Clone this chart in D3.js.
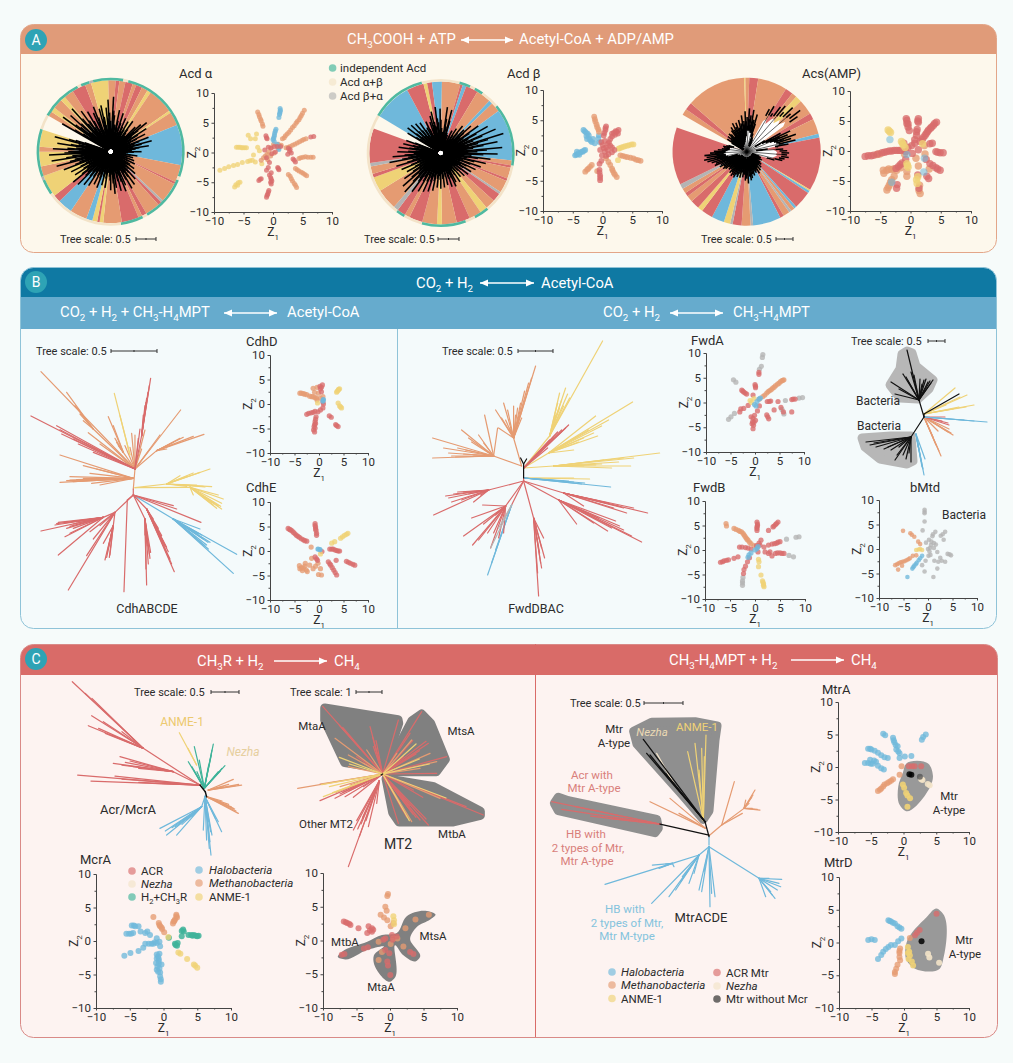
<!DOCTYPE html>
<html>
<head>
<meta charset="utf-8">
<script src="https://cdn.jsdelivr.net/npm/d3@7/dist/d3.min.js"></script>
<style>
  html, body { margin: 0; background: #f6fbfa; }
  svg { display: block; font-family: Roboto, sans-serif; }
</style>
</head>
<body>
<script>
// ---- data: scatter points are [Z1, Z2] ----
const acdAlphaBlue = [[1.2,7.4],[1.25,7.1],[1.2,6.9],[1.15,6.6],[1.1,6.4],[1,5.9],[.5,3.9],[.4,3.6],[.3,3.3],[.25,3],[.2,2.7],[.1,2.4],[0,2.2],[.2,1.9],[.7,1.4],[1,.9],[1,.5]];
const acdAlphaOrange = [[5.3,7.1],[5,6.6],[4.8,6.2],[4.6,5.9],[4.4,5.5],[4.1,5.2],[3.9,4.9],[3.6,4.5],[3.3,4.2],[3,3.8],[2.7,3.4],[2.4,3.1],[2.1,2.8],[1.9,2.5],[1.6,2.3],[-2.6,6.8],[-2.4,6.4],[-2.3,6],[-2.1,5.6],[-2,5.3],[-1.8,4.8],[-1.7,4.4],[5.6,2.3],[5.2,2.2],[4.9,2],[4.5,1.8],[4.1,1.6],[3.7,1.4],[3.3,1.2],[2.9,1],[2.6,.9],[2.2,.8],[6.8,-.8],[6.4,-.8],[5.9,-.8],[5.5,-.7],[5.1,-.8],[4.7,-.9],[4.4,-1],[5.7,-3.9],[5.4,-3.7],[5.1,-3.5],[4.8,-3.3],[4.4,-3.1],[4.1,-2.9],[3.8,-2.7],[4,-5.9],[3.8,-5.5],[3.6,-5.2],[3.3,-4.8],[3.1,-4.4],[2.9,-4],[2.6,-3.7],[.1,1.4],[.9,1.4],[1.4,1.2],[-.4,.8],[.9,.7],[-1,-.3],[-1.6,-.9],[-.4,-.6],[-2,-1.3],[.2,-.1],[-.9,-1.2],[-1.3,-.6],[-.7,.1]];
const acdAlphaYellow = [[-9,-3],[-8.2,-2.7],[-7.5,-2.4],[-6.7,-2.2],[-6,-2],[-5.2,-1.7],[-4.3,-1.5],[-3.9,-1.4],[-3.5,-1.3],[-3,-1.6],[-6.2,.9],[-5.9,.9],[-5.6,.9],[-5.3,.8],[-5.1,.8],[-4.8,.8],[-4.5,.8],[-4.2,2.9],[-3.8,2.3],[-2.8,3.1],[-3,2.3],[-6.5,-5.8],[-6.3,-5.4],[-6,-5.5],[-5.6,-5],[-5.9,-5.1],[-3.3,-.4],[-2.3,.3],[-2.6,.9],[-1.9,-1.9]];
const acdAlphaRed = [[-1.1,-7.5],[-1,-7.2],[-.9,-7],[-.8,-6.7],[-.7,-6.4],[-.3,-5.3],[-.2,-4.8],[-.4,-5],[-.4,-4.2],[-.3,-3.4],[-.6,-3.8],[-.3,-4.5],[-2.4,-4.7],[-2.2,-4.5],[-2,-4.4],[-1.1,-3],[-.8,-2.5],[.8,-2.5],[1,-2.9],[.9,-2.7],[-1.2,2.8],[-1.1,2.5],[-1,2.3],[-.8,.9],[-.3,.7],[.2,1],[.7,1],[1.3,1],[2.6,.7],[2.9,.5],[3.1,-.1],[2.5,-.3],[2.8,.2],[6.9,2.7],[6.4,2.6],[3.4,-1.1],[3.6,-1.3],[3.8,-1.6],[-1.4,.4],[-1.1,-.9],[-.6,-1.7],[.4,.1],[-.2,-.2]];

const acdBetaBlue = [[-3.2,3.4],[-3,3.2],[-2.8,3],[-2.5,2.8],[-2.3,2.5],[-2.7,2.4],[-2.2,1.9],[-2,1.6],[-1.8,1.4],[-1.3,1.2],[-2.6,1.9],[-1.6,1.9],[-.6,2.5],[-.7,2],[-4.6,-.8],[-4.4,-.7],[-4.2,-.6],[-4,-.4],[-3.7,-.3],[-3.5,-.2],[-3.3,-.2],[-3.1,0],[-2.9,.1],[-4.3,-.2],[-3.9,-.7],[-.5,1.4]];
const acdBetaOrange = [[-1.4,5.6],[-1.3,5.2],[-1.2,4.8],[-1,4.3],[-.9,3.9],[-.7,3.5],[-.6,3.1],[6.4,-1.7],[6,-1.6],[5.6,-1.5],[5.2,-1.3],[4.7,-1.2],[4.2,-1.1],[3.8,-1],[3.4,-.9],[3,-.8],[-2.9,-3.5],[-2.6,-3.2],[-2.4,-3],[-2.1,-2.7],[-1.8,-2.4],[2.4,-4.4],[2.1,-4],[1.9,-3.7],[1.7,-3.3],[1.3,-2.4],[1.6,-3],[.6,-1.3],[1,-1.9],[-.9,-3.4]];
const acdBetaYellow = [[5.2,1],[4.9,1],[4.5,.9],[4.2,.8],[3.8,.7],[3.5,.6],[3.2,.5],[2.9,.4],[2.7,.3],[2.6,-1.6]];
const acdBetaRed = [[.6,4],[.5,3.7],[.5,3.4],[.3,2.9],[.2,2.5],[2.7,3.4],[2.4,3.1],[2.1,2.6],[1.6,2.3],[2.6,2.8],[1.1,1.4],[1.3,1.9],[1.9,2.9],[2.2,3.2],[1.6,2.8],[.4,1.6],[0,.9],[.6,.5],[1.3,.8],[2,.1],[.4,-.2],[-.4,.1],[1,-.6],[-.1,-.8],[1.6,-.3],[-.4,-4.9],[-.4,-4.5],[-.4,-4.1],[-.5,-3.6],[-.5,-3.2],[-.5,-2.2],[-.2,-1.7],[.9,.1],[-.2,1.4],[.9,1.1],[.2,.4],[1.6,.5],[.6,-.9]];

const acsRed = [[-7.5,-.9],[-7,-.8],[-6.5,-.8],[-6.1,-.7],[-5.4,-.5],[-4.7,-.3],[-4.3,-.2],[-3.9,-.1],[-3.5,0],[-3.1,0],[-2.7,.1],[-2.3,.1],[-1.9,.1],[-1.6,.1],[-.8,-.1],[-.6,5.1],[-.6,4.6],[-.4,4],[-.2,3.4],[-.4,4.5],[-.7,5.4],[1.3,5.4],[1.3,4.8],[1.2,5],[1,3.2],[1,2.6],[1.1,3.6],[.7,1.9],[.7,1.3],[4.3,4.8],[4,4.6],[3.8,4.3],[3.5,4],[3.3,3.8],[3,3.5],[2.8,3.2],[2.6,2.9],[2.4,2.6],[2.1,2.2],[1.9,1.9],[1.6,1.6],[3.2,1.2],[3.6,1.3],[5.4,-.3],[4.9,-.3],[4.5,-.2],[4.2,-.1],[4.9,-3.2],[4.5,-3],[4.2,-2.8],[3.7,-2.4],[3.2,-2.1],[2.6,-1.4],[3,-4.6],[2.7,-4.2],[-2.3,-6.2],[-2.2,-5.6],[-2,-2.6],[-1.7,-2.3],[-1.4,-2],[-.8,-1.4],[1.4,-6.2],[1.2,-4],[-1.1,1.3],[-.4,.6],[.3,-.4],[-2.4,-2.9],[1.3,.2],[.2,.9]];
const acsOrange = [[-4.5,-3.2],[-3.9,-3.2],[-3.6,-3],[-3.2,-3.1],[-2.8,-3],[-2.3,-3.2],[-1.6,-2.8],[-3.9,-6.5],[-3.7,-6.1],[-3.5,-5.7],[-3.3,-5.2],[-3.1,-4.8],[-2.7,-4.2],[1.6,-7.1],[1.4,-6.6],[-.6,-4.2],[-.6,-3.4],[2.4,-.5],[3.1,-3],[.9,-1.2],[-4.4,-3.7],[-5.1,-.5],[-5.6,-.6],[2.3,.9],[1.3,-2.5],[-1,-.5],[1.5,-5.7]];
const acsYellow = [[-3.7,3.5],[-3.5,3.3],[-3.3,3.1],[-1.5,1.6],[-1.3,1.3],[-1.2,1],[-.9,.6],[-.6,-2.1],[-.5,-2.4],[-.4,-2.7],[1,-4.8],[1.1,-5.4],[1.2,-4.3],[2,1.2]];
const acsBlue = [[-3.1,-5.2],[-3.4,1.9],[2.3,-1.2],[2.2,-3.5],[-.6,-.6]];

const cdhDOrange = [[-3.9,2.2],[-3.6,2.2],[-3.2,2.1],[-2.9,2],[-2.5,1.9],[-1.9,1.6],[-1.5,1.5],[-1.2,1.5],[-.8,1.3],[-.5,1.2],[.3,1.2],[.8,1.5],[-1.2,3.2],[-.4,3.4],[-.1,2.2],[-.9,2.4],[-.4,.8]];
const cdhDRed = [[.2,3.6],[.3,3.1],[.5,2.5],[.7,3.9],[.5,3.4],[.8,.4],[.8,-.8],[.3,-1.2],[-.2,-1.6],[-.8,-1.5],[-1.2,-1.7],[-1.6,-1.8],[-2.1,-1.9],[-2.5,-2.1],[-.6,-2.6],[-.8,-3.6],[-.9,-4.2],[-.8,-4.9],[-1.1,-5.3],[-.9,-5.7],[-1,-4.6],[-.7,-4],[3.9,-4.6],[3.6,-4.4],[3.4,-4.2],[2.5,-2.7],[2.1,-2.4],[-.7,-3.1],[.9,0]];
const cdhDYellow = [[4.2,3.1],[4,3],[3.9,2.8],[3.7,2.6],[3.6,2.4],[4.6,-.8],[4.4,-.6],[4.2,-.4],[3.9,.2],[-.3,.2]];
const cdhDBlue = [[.8,.6],[.9,.9]];

const cdhERed = [[-6.3,4.6],[-6,4.4],[-5.8,4.3],[-5.5,4.1],[-5.2,3.8],[-4.9,3.5],[-4.6,3.2],[-4.3,3],[-4,2.8],[-3.6,2.5],[-3.2,2.3],[-2.9,2.1],[-2.5,2],[-.8,5.6],[-.8,5.2],[-.7,4.9],[-.7,4.5],[-.6,4.2],[-.5,3.6],[-.5,3.2],[2.2,.4],[2.6,.4],[2.9,.4],[3.3,.2],[3.6,.1],[3.9,0],[4.2,0],[-.8,-1.2],[-.5,-1.6],[-.3,-1.9],[1.9,-2.2],[2.2,-2.6],[2.4,-2.9],[2.7,-3.4],[3,-3.9],[3.3,-4.4],[3.6,-4.9],[5.6,-2.1],[6,-2.3],[6.4,-2.5],[6.9,-2.7],[7.3,-2.9],[.6,-.1],[3.5,-1.9]];
const cdhEYellow = [[5.9,3.6],[5.6,3.4],[5.2,3.2],[4.8,2.9],[4.4,2.6],[3.2,1.9],[2.6,1.6],[.3,-.6]];
const cdhEOrange = [[-3.9,-3.6],[-4,-3],[-3.6,-3.4],[-3.2,-3.5],[-2.9,-3.1],[-2.6,-3.9],[-1.9,-2.9],[-1.2,-3.6],[-.7,-3.1],[-.2,-2.5],[.3,-3.6],[.5,-4.9],[-.1,-4.8],[-2.4,-4.2],[-1.5,-1.5],[-1.6,.8],[-2.8,-2.5],[-3.4,-4]];
const cdhEBlue = [[-.2,.4],[.2,.3]];

const fwdARed = [[.8,6.1],[.8,5.7],[0,3.6],[.1,3],[.1,3.3],[-2.7,2.5],[-2.5,2.3],[-2.3,2.1],[-2,1.9],[-1.7,1.7],[-.4,1.5],[3.2,.3],[2.5,.2],[2.9,.2],[4.7,.2],[7.5,.6],[8.2,.7],[7.8,.7],[7.5,-1.9],[5.8,-1.9],[5.3,-1],[3.9,-1.5],[2.4,-2.5],[2.8,-3.3],[2.6,-2.9],[-.4,-5.3],[-.3,-4.6],[-.5,-3.9],[-.4,-3.2],[-.1,-2.6],[-.6,-4.3],[.1,-3.6],[-.2,-4],[.5,-1.7],[-3.1,-1.9],[-2.9,-1.3],[-2.3,-1.2],[-1.4,-.6],[.9,-.7],[-.8,-2.9]];
const fwdAGray = [[1.6,9.7],[1.5,9.1],[-4.4,4.6],[-3.9,4.1],[9.7,1],[9,.9],[6.2,.4],[5.5,-1.4],[-5.4,-3.4],[-4.9,-2.9],[-4.2,-2.2],[1.3,7.3],[.9,6.7],[5.9,-2.3]];
const fwdAOrange = [[5.9,4.6],[5.7,4.5],[5.5,4.4],[5.2,4.2],[4.9,3.9],[4.6,3.7],[4.2,3.4],[3.9,3.1],[3.6,2.9],[3.3,2.6],[3,2.4],[2.7,2.2],[2.4,1.9],[2,1.5],[1.6,1.2],[.9,.7]];
const fwdABlue = [[.4,.2],[.8,.7],[-.1,-.4],[1.1,.9],[.2,-.7]];
const fwdAYellow = [[-.7,0],[-.2,.8],[-1,.4]];

const fwdBRed = [[.4,5.7],[.5,5.3],[.5,5],[.4,4.7],[.4,4.4],[.4,4],[4.6,5.7],[4.3,5.4],[4.1,5.2],[3.8,4.9],[3.6,4.7],[2.7,4],[5,1.7],[4.6,1.6],[4.3,1.4],[3.9,1.3],[3.4,1.2],[2.7,1],[1.8,.6],[1.2,2],[.8,1.4],[1,1],[-6.9,-2.5],[-6.5,-2.4],[-6.2,-2.2],[-5.7,-2.1],[-5.3,-2],[-4.2,-1.7],[-3.4,-1.4],[-2.3,-4.8],[-2.2,-4],[-1.9,-3.3],[-1.5,-2.4],[-1.1,-1.6],[5.8,-.7],[5.4,-.7],[5,-.6],[4.5,-.6],[4.1,-.7],[2.7,-.7],[3,-.4],[2,-.4],[-3.1,.6],[-2.6,.6],[-1.9,.5],[-1.4,.4],[-.8,.2],[3.4,-1.2],[.6,-.4],[.3,.9]];
const fwdBGray = [[8.8,2.7],[8.2,2.6],[7.7,-1.4],[6.8,-1.1],[6.3,2.2],[-2.5,-7.2],[-2.5,-6.7],[-2.5,-6.3],[-2.4,-5.6]];
const fwdBOrange = [[-5.8,5.4],[-5.7,4.9],[-4.2,4.4],[-3.8,4.2],[-3.3,4],[-3,3.8],[-2.7,3.7],[-2.4,3.4],[-2.2,3.1],[-2,2.8],[-1.8,2.5],[-1.6,2.2],[-1.4,2],[-1.1,1.6],[-.8,1.3],[-.2,.9],[.4,.5]];
const fwdBYellow = [[1.8,-7.5],[1.7,-7.2],[1.7,-6.9],[1.6,-6.6],[1.5,-6.3],[1.2,-5.1],[.8,-2.4],[.7,-1.9],[.7,-3.4]];
const fwdBBlue = [[-1.2,-1],[-.8,-.6],[.4,.3],[.6,.7],[-1.4,-1.5],[0,0]];

const bMtdGray = [[-.7,8],[-.7,7.6],[-.7,7.3],[-.7,5.6],[1.5,3.5],[1,3],[3.5,3.5],[3,3],[2.6,2.7],[.7,1.5],[.2,1.9],[.9,2.6],[0,0],[.6,.8],[1.9,-.6],[1.2,.2],[4.7,-1.3],[4,-1],[4.4,-1.1],[3.5,-2.6],[2.8,-2.4],[2.1,-2.6],[1.3,-2.4],[1.1,-5.7],[-1.2,-3.3],[-.5,-2.4],[.1,-1.4],[-.7,-4.6],[1.9,-4],[-.4,1.3],[.5,-1.2],[3.2,1.9],[-1.1,3.8],[1.2,1.2],[.4,.2],[1.6,.9],[.3,-.5],[2.5,-1.8]];
const bMtdOrange = [[-5.1,3.7],[-3.6,3.2],[-3.3,2.9],[-2.8,2.5],[-2,1.5],[-1.6,1],[-6.7,-3.3],[-6.3,-3.1],[-6,-2.9],[-5.6,-2.7],[-5.2,-2.6],[-4.8,-2.5],[-4.4,-2.3],[-4,-2.1],[-3.7,-1.9],[-2.4,-1.3],[-6.1,-4.2],[-5.3,-3.4],[-3.1,-1.4]];
const bMtdYellow = [[-2.4,-.2],[-1.9,-.1],[-1.2,-.2],[-1.6,0]];
const bMtdBlue = [[-3.2,-4],[-3,-3.7],[-2.8,-3.4],[-2.5,-3.1],[-2.3,-2.8],[-1.9,-2.3],[-1.6,-1.9],[-1.2,-1.4],[-4.2,-5.7]];

const mcrBlue = [[-5.8,-2.2],[-4.9,-1.8],[-3.7,-1.5],[-3,-1],[-5.5,1.1],[-5.1,1.1],[-4.8,1.1],[-4.5,1.2],[-4.7,2.3],[-4.4,2.3],[-4.2,2.2],[-3.7,2.2],[-3.4,1.4],[-2.7,1.2],[-2.4,1.4],[-2,.9],[-2.7,-.4],[-2.2,-.4],[-1.8,-.4],[-1.5,-.4],[-1.3,-.2],[-1,-.3],[-1,.4],[-.5,-.8],[-.6,-.1],[-1,-2],[-.6,-1.9],[-.8,-2.3],[-1,-2.6],[-.7,-2.7],[-.7,-3],[-1.1,-3.3],[-.9,-3.8],[-.7,-3.4],[-1,-4.3],[-.6,-4.1],[-.8,-4.6],[-.5,-4.7],[-.5,-5.3],[-.4,-5.7],[-.4,-6.1],[-.3,-3.5]];
const mcrOrange = [[-1.5,3.6],[-.7,2.7],[-.6,2.4],[-.5,2.2],[-.3,2],[-.2,1.8],[1.9,3.9],[2,3.5],[1.9,3.7],[1.7,3.2],[1.6,3],[1.5,2.9],[1.4,2.6],[.1,1.3]];
const mcrGreen = [[2.9,1.7],[2.7,1.5],[2.7,.7],[3.7,.9],[4.1,.9],[4.3,.8],[4.5,.9],[4.8,.8],[5,.7],[5.2,.8],[1.7,-.4],[2.1,-.3],[2,-.7],[1.8,-.6],[.8,.5],[3,1.4]];
const mcrYellow = [[2.2,-1.7],[2.5,-1.9],[3.5,-2.7],[4.5,-3.5],[4.7,-3.7],[5,-4],[.7,.6]];

const mt2Hull = [[-7.8,-2.4],[-7.2,-1.7],[-3.4,-.2],[-1.2,.8],[1,1.1],[2.5,3.6],[5.3,4.4],[6.8,3.8],[6,3.1],[4,2],[3,.3],[4.5,-2.4],[3.8,-3.1],[2,-2.2],[.8,-.7],[.8,-5.4],[.05,-6.1],[-2.4,-3.4],[-2.4,-2.2],[-.9,-.9],[-3.4,-1.4],[-6.7,-2.8]];
const mt2Red = [[-7.2,-2.1],[-6.8,-2],[-3.9,-1.2],[-3.3,-1],[-6.9,2.8],[-6.6,2.7],[-6.4,2.6],[-6.1,2.5],[-5.9,2.3],[-4.7,1.8],[-3.2,2.1],[-2.7,1.8],[-2.5,1.6],[-2.7,1.3],[-3.4,1.1],[-3,1.5],[-.7,.3],[.3,.8],[.4,.1],[-.4,-3.1],[-.3,-3.7],[.05,-5.1],[-.7,-1.4],[-.1,-1.9],[3,-1.7],[3.5,-2],[1,.6],[-1,.1]];
const mt2Orange = [[-.4,6.6],[-.3,6.9],[-.7,5],[-.5,4.4],[-1.4,3.8],[-.9,3.4],[-.4,3],[.5,2.6],[.1,2.1],[.5,.3],[1.1,.3],[-1.7,-.2],[-1.7,-2.9],[-1.2,-1.7],[3.8,3.1],[5.8,3.8],[2.3,1.8],[2,-.9],[.1,-.5]];
const mt2Yellow = [[.5,3.6],[.6,3],[.6,2.4]];

const mtrAHull = [[.4,.5],[3.8,.5],[4.5,-1.4],[3.2,-4.5],[.4,-6.8],[-.6,-5.8],[-.8,-3],[-.1,-.9]];
const mtrABlue = [[-3.1,5.1],[-2.8,4.9],[-1.6,4.5],[-1.5,4.1],[-1.4,3.8],[-1.2,3.4],[-1.1,2.7],[-.9,3.2],[-.8,2.4],[-.6,1.4],[-.6,2.1],[.2,1.6],[1.2,1.7],[3,4.6],[3.4,5],[2.8,4.2],[-5.4,2.8],[-5.1,2.8],[-4.9,2.7],[-4.4,2.5],[-3.9,2.2],[-3.4,1.8],[-2.4,1.4],[-2.9,1.5],[-5.9,.6],[-5.4,.6],[-5,.5],[-4.7,.5],[-4.2,.8],[-3.9,.2],[-3.4,-.2],[-3,-.4],[-5.1,1.1],[-4.5,1]];
const mtrAOrange = [[-3.9,-3.7],[-3.6,-3.5],[-3.4,-3.3],[-3.1,-3],[-2.9,-2.7],[-2.5,-2.5],[-2.2,-2.3],[-1.9,-2.1],[-1.6,-1.9],[-.6,-1.2],[-.3,.1]];
const mtrARed = [[.8,.1],[1.3,.1],[1.7,.1],[2.7,.1]];
const mtrABlack = [[.9,-1.1],[1.2,-1.2]];
const mtrAYellow = [[-.1,-2.7],[.1,-3.2],[.4,-4],[.6,-4.4],[1,-4.8],[.6,-6.1]];
const mtrANezha = [[2.7,-1.9],[2.9,-2],[4,-2.8],[3.7,-2.6]];
const mtrAGray = [[2.5,-1.5]];

const mtrDHull = [[.4,0],[3.5,3.9],[5,5.2],[6,4.4],[6,-2.7],[5.5,-4],[1.7,-4],[.4,-2.7]];
const mtrDBlue = [[-2.4,3.4],[-2.2,3.3],[-2,3.2],[-1.7,3],[-1.4,2.9],[-1,2.5],[-.7,2.3],[-.4,2.1],[-5.5,.4],[-5,.5],[-4.5,.4],[-.4,.6],[-.9,.2],[-1.4,-.4],[-2.4,-.7],[-2,-.4],[-2.8,-1],[-3.2,-1.4],[-3.5,-1.9],[-4,-2.5]];
const mtrDOrange = [[.9,.7],[-.6,-.9],[-.7,-1.3],[-.7,-1.6],[-.7,-2.2],[-.6,-2.7],[-1,-3.4],[-1.2,-4],[-1.4,-4.5],[-1.4,-4.8]];
const mtrDRed = [[5,4.4],[2.4,1.9],[2,1.5],[1.7,1.1]];
const mtrDBlack = [[2.7,.2]];
const mtrDYellow = [[.6,-.7],[.8,-1.4],[.9,-2],[1.2,-2.9],[1.4,-3.5],[.6,-1.6],[.7,-2.5]];
const mtrDNezha = [[3.7,-1.7],[3.9,-2.3],[5.4,-3.1]];

// circular trees: sector start angle (degrees clockwise from north) and clade
const acdAlphaSectors = [[300,"o"],[304,"y"],[308,"o"],[316,"y"],[320,"o"],[328,"r"],[339,"o"],[344,"y"],[358,"o"],[364,"r"],[367,"o"],[372,"r"],[378,"o"],[381,"r"],[386,"o"],[391,"y"],[394,"o"],[415,"y"],[417,"o"],[428,"b"],[461,"o"],[475,"r"],[477,"o"],[493,"k"],[495,"r"],[498,"o"],[510,"r"],[514,"o"],[517,"r"],[531,"o"],[546,"y"],[549,"r"],[551,"y"],[555,"b"],[560,"o"],[574,"b"],[586,"r"],[592,"y"],[610,"o"],[618,"y"],[630,"o"],[634,"y"],[648,"o"]];
const acdBetaSectors = [[301,"b"],[332,"r"],[346,"y"],[349,"r"],[353,"b"],[361,"o"],[376,"r"],[378,"b"],[381,"r"],[391,"o"],[403,"b"],[406,"o"],[414,"b"],[456,"o"],[460,"r"],[462,"o"],[471,"r"],[473,"o"],[483,"k"],[485,"r"],[492,"o"],[500,"y"],[506,"o"],[516,"r"],[527,"o"],[539,"y"],[543,"o"],[555,"r"],[566,"o"],[570,"r"],[577,"k"],[581,"o"],[598,"y"],[610,"r"],[613,"o"],[619,"k"],[622,"r"]];
const acsSectors = [[300,"o"],[305,"r"],[311,"o"],[358,"y"],[359,"o"],[362,"r"],[369,"o"],[392,"r"],[398,"o"],[402,"y"],[407,"o"],[419,"r"],[424,"o"],[436,"b"],[439,"r"],[481,"y"],[482,"b"],[484,"r"],[498,"b"],[500,"o"],[503,"k"],[505,"o"],[510,"r"],[513,"b"],[535,"k"],[537,"o"],[544,"r"],[551,"k"],[553,"y"],[558,"b"],[568,"r"],[577,"y"],[581,"r"],[588,"o"],[593,"r"],[596,"o"],[600,"k"],[604,"r"],[649,"r"]];
const acdAlphaRim = [[288,"c"],[300,"g"],[333,"c"],[336,"g"],[343,"k"],[346,"g"],[370,"c"],[374,"g"],[470,"c"],[473,"g"],[510,"c"],[514,"g"],[532,"c"],[595,"g"],[607,"k"],[610,"g"]];
const acdBetaRim = [[290,"c"],[301,"g"],[345,"c"],[375,"g"],[384,"c"],[388,"g"],[395,"c"],[410,"g"],[460,"c"],[500,"g"],[512,"c"],[520,"g"],[555,"c"],[570,"g"],[577,"c"],[650,"c"]];

// radial extent of the black tips, evenly spread over the open part of each circle
const acdAlphaTips = [58,34,61,40,56,28,60,37,52,30,48,26,44,50,24,46,49,28,46,54,32,57,38,28,44,26,42,22,38,24,36,20,39,25,22,36,42,48,27,44,24,40,22,42,26,44,24,40,26,22,32,18,16,28,14,24,12,26,16,28,14,24,30,20,34,22,38,25,42,26,44,22,38,44,26,42,22,38,44,24,40,26,22,38,24,36,22,40,26,38,24,42,26,44,28,48,32,50,30,44,26,46,28,52,34,58,38,62,40,64,44,60,36,56,34,60,38];
const acdBetaTips = [40,26,43,26,42,24,40,22,38,20,30,36,20,34,40,44,28,48,32,46,26,22,48,28,46,22,20,14,26,16,30,18,36,20,34,42,26,48,28,56,32,62,36,68,40,60,34,64,38,59,32,52,28,48,24,44,22,40,24,37,22,36,20,34,18,32,20,36,22,34,38,24,37,20,34,20,36,22,37,24,36,22,40,26,42,28,44,26,46,30,50,34,55,32,52,28,46,26,40,24,44,26,48,30,54,34,50,28,45,26,44,28,40,24,38];
const acsTipsOuter = [18,24,20,25,22,26,24,20,27,30,26,33,28,32,26,34,30,38,32,42,36,45,38,44,34,40,20,16,14,50,55,48,58,62,56,66,60,70,64,22,40,50,46,54,48,52,44,22,38,42,44,42,44,40,38,30,14,16,14,18,16,14,18,20,18,22,18,24,20,26,22,24,22,26,24,28,30,26,33,28,30,24,27,22,28,24,28,26,30,28,30,26,28,24,26,24,28,30,28,32,30,36,34,38,42,45,42,44,38,34,30,26,24,25,22,20];
const acsTipsInner = [4,4,4,4,4,6,6,6,6,6,6,8,8,8,8,10,10,12,14,16,22,22,22,20,20,16,8,6,6,42,44,44,46,48,50,52,54,56,54,10,18,22,26,30,32,34,30,10,30,34,36,36,36,34,30,22,6,6,6,6,6,6,6,6,6,6,6,6,6,6,6,6,6,6,6,6,6,6,8,8,8,8,6,6,6,6,6,6,6,6,8,8,6,6,6,6,6,8,8,8,8,10,10,10,20,22,22,24,22,22,20,18,18,18,16,14];

// unrooted trees: each fan is hub x, hub y, then tip x, tip y... relative to the tree root
const cdhOrange = [[0,0,5,-60],[5,-60,-277,-352,-120,-180,-30,-110,70,-115,-135,-169,-100,-135,-5,-167,-10,-125,5,-162,-25,-130,35,-177,25,-120,80,-162,50,-120,142,-237],[-120,-180,-170,-245,-175,-250,-160,-225,-150,-205,-200,-290],[-30,-110,-55,-152,-50,-140,-45,-130,-40,-125,-75,-217,-60,-190],[70,-115,120,-140,140,-152,150,-155,212,-164,180,-158,110,-130,100,-120],[0,-32,-220,-102,-130,-47,-190,-37,-150,-32,-220,-20,-180,-22,-125,-17,-100,-12,-150,-70,-110,-60,-170,-28,-160,-24,-190,-27,-200,-25]];
const cdhRedUpper = [[5,-60,25,-160,15,-152,20,-180],[25,-160,52,-332,48,-310,40,-272,44,-290,30,-222,35,-250,38,-260],[5,-60,-307,-219,-230,-190,-165,-135,-120,-110,-220,-178,-180,-150,-215,-165]];
const cdhYellow = [[-10,-102,-57,-287,-40,-220],[5,-4,100,-15,170,-5],[100,-15,230,-60,180,-48,140,-40,200,-50,160,-38,235,-7,210,-8,160,-8,215,-6,190,-12],[170,-5,270,30,255,18,265,43,262,52,265,60,255,50,240,48,250,58,220,30,180,18,235,40]];
const cdhRedLower = [[0,0,0,18],[0,18,203,100,130,60,120,50],[0,18,40,60,35,90],[40,60,123,248,105,188,95,170,90,158,75,118,100,175,85,150,110,210,85,140,60,90,115,225],[35,90,38,240,50,208,45,178,48,195,40,288,45,225,35,138,52,190,42,170],[0,18,-55,70],[-55,70,-90,85,-60,110,-195,303,-130,128,-100,110,-140,200,-120,150],[-90,85,-277,126,-225,100,-230,104,-205,102,-180,105,-190,112,-225,198,-205,143,-190,133,-180,118,-235,108,-200,118,-170,98],[-60,110,-85,213,-70,198,-75,175,-80,205,-78,190,-90,163,-72,205],[0,18,-18,33],[-18,33,-28,308]];
const cdhBlue = [[0,18,120,90],[120,90,310,196,300,253,220,168,224,160,205,138,180,128,230,160,210,150,200,120,195,135,215,170,225,180]];

const fwdYellow = [[0,-10,26,-42],[0,-10,25,-25],[0,-10,30,-12],[26,-42,79,-137,42,-90,46,-80,36,-85,32,-63,40,-72,44,-84,38,-78,36,-70,34,-75],[25,-25,109,-76,72,-62,74,-42,60,-40,50,-28,85,-58,65,-48,78,-52,55,-36,70,-45],[30,-12,136,-25,100,-20,80,-18,107,-12,72,-13,88,-10,110,-20,95,-16,60,-12,78,-14]];
const fwdRedUp = [[0,-10,45,-53,38,-48,26,-38,34,-46,42,-50,30,-40,24,-30]];
const fwdOrange = [[-2,-12,-10,-40],[-2,-12,-30,-22],[-10,-40,12,-112,1,-87,-2,-60,-8,-63,-14,-50,-20,-75,-28,-68,-22,-60,-16,-68,-10,-72,-25,-50,5,-95,8,-100,-3,-75,-6,-70,-18,-58],[-30,-22,-91,-40,-91,-20,-72,-22,-58,-28,-50,-22,-66,-30,-35,-22,-62,-48,-45,-43,-80,-30,-75,-25,-52,-36,-60,-24,-68,-21,-40,-35,-55,-40,-26,-50,-39,-63]];
const fwdBlack = [[0,0,0,-14],[0,-14,-3,-20],[0,-14,3,-19]];
const fwdYellowLow = [[0,0,66,1,50,0]];
const fwdBlue = [[0,0,87,9,61,5,50,4,40,3,58,6,45,3],[-12,27,-36,97,-28,72,-32,85]];
const fwdRedLow = [[0,0,0,3],[0,3,40,15],[0,3,35,22],[0,3,10,40],[0,3,-35,12],[0,3,-18,28],[0,3,-12,27],[40,15,124,35,103,35,90,30,76,23,60,28,95,28,110,30,100,30,85,25],[35,22,118,64,84,53,70,45,53,46,92,43,100,52,75,40,108,58,96,48,88,50],[10,40,15,118,18,90,21,80,18,70,13,50,14,95,16,75,20,60,17,85],[-35,12,-90,37,-78,18,-66,14,-55,16,-43,17,-70,16,-72,24,-60,14,-75,20,-62,22,-50,24],[-18,28,-60,58,-52,40,-41,27,-33,70,-30,55,-51,67,-40,46,-28,37,-20,55,-45,62,-36,55,-25,60]];
const fwdGray = [[-12,27,-33,70,-25,50]];

const bactHullTop = [[-17,-66],[-12,-64],[-8,-51],[9,-37],[5,-28],[-6,-18],[-24,-19],[-34,-32],[-24,-48],[-22,-63]];
const bactHullLow = [[-62,21],[-33,19],[-13,19],[-11,44],[-17,47],[-44,42],[-59,30]];
const bactBlack = [[0,0,-5,-17],[0,0,0,-3],[0,-3,35,-23],[0,0,-13,20],[-5,-17,-17,-67,-13,-45,-10,-42,9,-37,7,-34,4,-35,0,-37,-4,-38,-21,-43,-16,-36,-33,-35,-25,-28,-29,-23,-2,-33,2,-38,6,-36,-18,-40],[-13,20,-58,25,-54,28,-48,30,-40,32,-33,33,-29,43,-21,38,-25,30,-13,45,-15,36,-50,26,-36,30,-27,38,-18,42]];
const bactYellow = [[0,-3,31,-29,43,-22,50,-12,35,-10,29,-8,22,-12,42,-10,36,-20]];
const bactRed = [[0,0,21,0,25,8,18,4,24,6]];
const bactOrange = [[0,0,17,39,12,28,29,18,25,12,14,14,9,20,24,15,15,34,27,16]];
const bactBlue = [[0,0,63,5,40,3,50,4],[-8,17,0,58,-3,44,-2,50,-6,30,-1,52,1,42]];

const acrRed = [[-16,-20,-186,-130],[-186,-130,-399,-330,-340,-280,-341,-228,-351,-198,-306,-210,-280,-170,-250,-180,-300,-175,-320,-190,-360,-295],[-16,-20,-96,-60],[-96,-60,-256,-105,-276,-85,-250,-80,-200,-70,-226,-92,-240,-88,-215,-75],[-16,-20,-383,-50,-271,-47,-343,-32,-200,-28,-150,-25,-250,-38]];
const acrYellow = [[-26,-80,-78,-177,-52,-130]];
const acrGreen = [[-3,-10,-33,-135,-18,-95,24,-143,18,-110,10,-80,20,-125,-51,-90,-35,-65,-25,-60,59,-78,39,-60,45,-62,30,-48,-40,-75,50,-70]];
const acrOrange = [[9,-5,109,-20,84,-37,54,-15,90,-18,70,-22,100,-22],[4,15,99,65,84,50,70,38,50,28,92,58,78,45,88,52]];
const acrBlue = [[0,10,-1,15],[-1,15,-11,45],[-11,45,-136,110,-100,108,-86,130,-116,130,-56,85,-70,98,-40,75,-120,118,-90,105],[-1,15,17,190,14,150,12,170,49,120,39,90,30,80,-6,115,4,145,20,130,10,90,16,120]];
const acrBlack = [[0,0,-16,-20],[0,0,4,15]];

const mt2HullTopLeft = [[-174,-198],[46,-163],[48,-152],[2,-16],[-114,-34],[-174,-162]];
const mt2HullTopRight = [[117,-180],[144,-152],[188,-44],[161,-7],[8,-7],[88,-160]];
const mt2HullBottom = [[10,14],[150,37],[293,112],[293,124],[212,144],[49,144],[30,116]];
const mt2TreeRed = [[0,0,-180,-203,-130,-146,-120,-140,47,-162,-38,-142,-28,-82,-20,-100,-30,-110,-25,-90,-78,-52,117,-187,192,-52,137,-92,130,-98,82,-122,90,-100,162,-2,62,-52,100,-60,110,-70,302,123,250,98,137,153,130,135,47,148,82,108,112,138,92,48,60,110,72,130,120,70,90,120,100,130,80,95],[0,0,-58,38,-128,60,-188,80,-143,73,-113,68,-88,70,-98,40,-120,55,-100,50],[-10,20,-103,278],[-10,20,-88,168,-70,188,-78,140,-43,158,-60,130,-18,88,-13,38,-75,165,-50,140,-65,150]];
const mt2TreeOrange = [[0,0,-143,-107,-103,-57,-103,-22,-58,-32,-48,-72,87,-102,42,-62,142,-62,162,-37,112,-17,172,73,87,143,52,88,-255,43,-188,30,-128,38,-98,33,-140,55]];
const mt2TreeYellow = [[0,0,-183,32,-160,38,-178,68,-150,56,-130,-50,100,-90,110,-45,140,-30,190,72,80,140,-100,-30]];
const mt2TreeBlack = [[0,0,-5,3]];

const mtrHullTop = [[-226,-316],[-172,-343],[-42,-345],[24,-332],[18,-290],[0,-78],[-17,-52],[-82,-128],[-216,-278]];
const mtrHullLeft = [[-452,-118],[-422,-108],[-157,-52],[-152,-26],[-162,-12],[-452,-78],[-464,-100]];
const mtrTreeBlack = [[0,0,-12,-45],[-12,-45,-197,-292,-187,-250,-177,-245,-150,-210,-130,-190],[0,-5,-147,-38]];
const mtrTreeYellow = [[-17,-50,-9,-305,-64,-255,-42,-280,-22,-265,-30,-200,-14,-240]];
const mtrTreeNezha = [[-100,-150,-157,-250,-135,-210]];
const mtrTreeRed = [[-147,-38,-472,-105,-442,-82,-400,-90,-355,-62,-300,-55]];
const mtrTreeOrange = [[0,-3,38,-35],[38,-35,76,-165,100,-70,105,-85],[105,-85,138,-140,132,-125,153,-80,130,-85,110,-110,120,-100,128,-118,145,-82],[-10,-25,-177,-105,-117,-115,-90,-70]];
const mtrTreeBlue = [[0,0,0,25],[0,30,-30,55],[-30,55,-110,80],[-110,80,-312,143,-130,82,-150,95,-170,85,-140,90,-105,90],[-30,55,-172,200,-100,160,-80,120,-60,140,-45,110,-85,135,-120,180],[0,30,-30,160,-22,165,3,210,18,180,-15,105,8,170],[0,30,150,125],[150,125,218,128,198,185,170,180,210,140,215,150,180,125,185,165,205,160,190,175]];

// ---- layout and style ----
const colors = { r: "#d96b6b", o: "#e59b72", y: "#efd276", b: "#6fb8db", g: "#3fb39a", k: "#b4b4b4", c: "#f3e3c8" };
const inkColor = "#2b2b2b";
const axisColor = "#444";

const svg = d3.select("body").append("svg").attr("width", 1013).attr("height", 1063);
svg.append("rect").attr("width", 1013).attr("height", 1063).attr("fill", "#f6fbfa");

function label(x, y, str, opts = {}) {
  const size = opts.size || 11.5;
  const t = svg.append("text")
    .attr("x", x).attr("y", y).attr("dy", "0.35em")
    .attr("font-size", size)
    .attr("text-anchor", opts.anchor || "start")
    .attr("fill", opts.color || inkColor)
    .attr("font-style", opts.italic ? "italic" : null);
  if (opts.rotate) t.attr("transform", `rotate(${opts.rotate} ${x} ${y})`);
  str.split(/_(\w)/).forEach((part, i) => {
    const s = t.append("tspan").text(part);
    if (i % 2) s.attr("font-size", size * 0.66).attr("dy", size * 0.28);
    else if (i) s.attr("dy", -size * 0.28);
  });
  return t;
}

function panel(id, x, y, w, h, fill, stroke, headers) {
  svg.append("clipPath").attr("id", id).append("rect")
    .attr("x", x).attr("y", y).attr("width", w).attr("height", h).attr("rx", 13);
  const g = svg.append("g").attr("clip-path", `url(#${id})`);
  g.append("rect").attr("x", x).attr("y", y).attr("width", w).attr("height", h).attr("fill", fill);
  headers.forEach(([top, bottom, color]) => {
    g.append("rect").attr("x", x).attr("y", top).attr("width", w).attr("height", bottom - top).attr("fill", color);
  });
  svg.append("rect").attr("x", x).attr("y", y).attr("width", w).attr("height", h).attr("rx", 13)
    .attr("fill", "none").attr("stroke", stroke).attr("stroke-width", 1);
}

function badge(x, y, letter) {
  svg.append("circle").attr("cx", x).attr("cy", y).attr("r", 11).attr("fill", "#2ea3b5");
  label(x, y, letter, { size: 14, anchor: "middle", color: "#fff" });
}

function arrow(x1, x2, y, both) {
  const head = (tip, dir) => svg.append("path")
    .attr("d", d3.line()([[tip, y], [tip - dir * 8, y - 3.5], [tip - dir * 8, y + 3.5]]) + "Z")
    .attr("fill", "#fff");
  svg.append("line").attr("x1", x1).attr("x2", x2).attr("y1", y).attr("y2", y)
    .attr("stroke", "#fff").attr("stroke-width", 1.5);
  head(x2, 1);
  if (both) head(x1, -1);
}

function scaleBar(textX, x1, x2, y, text) {
  label(textX, y, text, { size: 11 });
  svg.append("path").attr("d", `M${x1},${y}H${x2}M${x1},${y - 2}V${y + 2}M${x2},${y - 2}V${y + 2}M${(x1 + x2) / 2},${y - 1}V${y + 1}`)
    .attr("stroke", "#333").attr("stroke-width", 1).attr("fill", "none");
}

function legend(items, cx, tx, italics = []) {
  items.forEach(([y, text, color], i) => {
    svg.append("circle").attr("cx", cx).attr("cy", y).attr("r", 3.8).attr("fill", color).attr("opacity", 0.65);
    label(tx, y, text, { size: 11.5, italic: italics.includes(i) });
  });
}

function scatter({ xr, yr, r = 2.6, groups, hull, hullColor = "#808080" }) {
  const x = d3.scaleLinear().domain([-10, 10]).range(xr);
  const y = d3.scaleLinear().domain([-10, 10]).range(yr);
  const g = svg.append("g");
  if (hull) {
    g.append("path")
      .attr("d", d3.line().x(d => x(d[0])).y(d => y(d[1])).curve(d3.curveCatmullRomClosed.alpha(0.8))(hull))
      .attr("fill", hullColor);
  }
  groups.forEach(([pts, color, op]) => {
    g.append("g").selectAll("circle").data(pts).join("circle")
      .attr("cx", d => x(d[0])).attr("cy", d => y(d[1])).attr("r", r)
      .attr("fill", color).attr("opacity", op || 0.78);
  });
  const major = [-10, -5, 0, 5, 10];
  const minor = [-7.5, -2.5, 2.5, 7.5];
  const styleAxis = a => a.attr("font-family", null).attr("font-size", 11.5)
    .call(s => s.selectAll("line,path").attr("stroke", axisColor))
    .call(s => s.selectAll("text").attr("fill", inkColor));
  g.append("g").attr("transform", `translate(0,${yr[0]})`)
    .call(d3.axisBottom(x).tickValues(major).tickSize(2.5).tickSizeOuter(0).tickPadding(2)).call(styleAxis);
  g.append("g").attr("transform", `translate(0,${yr[0]})`)
    .call(d3.axisBottom(x).tickValues(minor).tickSize(1.5).tickSizeOuter(0).tickFormat("")).call(styleAxis);
  g.append("g").attr("transform", `translate(${xr[0]},0)`)
    .call(d3.axisLeft(y).tickValues(major).tickSize(2.5).tickSizeOuter(0).tickPadding(2.5)).call(styleAxis);
  g.append("g").attr("transform", `translate(${xr[0]},0)`)
    .call(d3.axisLeft(y).tickValues(minor).tickSize(1.5).tickSizeOuter(0).tickFormat("")).call(styleAxis);
  label(x(0), yr[0] + 20, "Z_1", { size: 12, anchor: "middle" });
  label(xr[0] - 22, y(0), "Z_2", { size: 12, anchor: "middle", rotate: -90 });
}

function circleTree({ cx, cy, radius, sectors, rim, tips, inner, start, end, barPx }) {
  const g = svg.append("g").attr("transform", `translate(${cx},${cy})`);
  const rad = d => d * Math.PI / 180;
  const r = d3.scaleLinear().domain([0, 20]).range([0, barPx]);
  const arc = d3.arc();
  const body = rim ? radius - 2.6 : radius;
  sectors.forEach(([a, key], i) => {
    const stop = i + 1 < sectors.length ? sectors[i + 1][0] : end;
    g.append("path").attr("fill", colors[key])
      .attr("d", arc({ innerRadius: 0, outerRadius: body, startAngle: rad(a), endAngle: rad(stop) }));
  });
  if (rim) {
    rim.forEach(([a, key], i) => {
      const stop = i + 1 < rim.length ? rim[i + 1][0] : 648;
      g.append("path").attr("fill", key === "c" ? colors.c : key === "g" ? "#4fb9a0" : colors.k)
        .attr("d", arc({ innerRadius: body, outerRadius: radius, startAngle: rad(a), endAngle: rad(stop) }));
    });
  }
  const step = (end - start) / (tips.length - 1);
  const spokes = tips.map((t, i) => ({ a: rad(start + i * step), t, i0: inner ? inner[i] : 3 }));
  g.append("path").attr("fill", "#fff")
    .attr("d", d3.areaRadial().angle(d => d.a).innerRadius(0).outerRadius(d => r(d.t) * 0.72)(spokes));
  spokes.forEach(({ a, t, i0 }, n) => {
    const p0 = d3.pointRadial(a, r(i0));
    const p1 = d3.pointRadial(a, r(t));
    if (inner && n % 3 === 0) {
      g.append("line").attr("x1", 0).attr("y1", 0).attr("x2", p0[0]).attr("y2", p0[1])
        .attr("stroke", "#000").attr("stroke-width", 0.6);
    }
    g.append("line").attr("x1", p0[0]).attr("y1", p0[1]).attr("x2", p1[0]).attr("y2", p1[1])
      .attr("stroke", "#000").attr("stroke-width", 1.55);
    if (t * 0.75 > i0) {
      const mid = d3.pointRadial(a + rad(step / 2), r(t * 0.75));
      g.append("line").attr("x1", p0[0]).attr("y1", p0[1]).attr("x2", mid[0]).attr("y2", mid[1])
        .attr("stroke", "#000").attr("stroke-width", 1.35);
    }
  });
}

function unrootedTree({ root, k, parts, hulls = [], width = 1.2 }) {
  const x = d3.scaleLinear().domain([0, 1]).range([root[0], root[0] + k]);
  const y = d3.scaleLinear().domain([0, 1]).range([root[1], root[1] + k]);
  const g = svg.append("g");
  const hullPath = d3.line().x(d => x(d[0])).y(d => y(d[1])).curve(d3.curveLinearClosed);
  hulls.forEach(([pts, color]) => g.append("path").attr("d", hullPath(pts)).attr("fill", color)
    .attr("stroke", color).attr("stroke-width", 9).attr("stroke-linejoin", "round"));
  parts.forEach(([fans, color, w]) => {
    const segs = fans.flatMap(f => d3.range(2, f.length, 2).map(i => [f[0], f[1], f[i], f[i + 1]]));
    g.append("g").selectAll("line").data(segs).join("line")
      .attr("x1", d => x(d[0])).attr("y1", d => y(d[1])).attr("x2", d => x(d[2])).attr("y2", d => y(d[3]))
      .attr("stroke", color).attr("stroke-width", w || width).attr("stroke-linecap", "round");
  });
}

// ---- panels ----
panel("pa", 20.5, 24.5, 976, 228, "#fdf8ec", "#e3a689", [[24, 54, "#e09b79"]]);
panel("pb", 20.5, 267.5, 976, 361, "#f4fafb", "#8fc3d8", [[267, 297, "#0f79a3"], [297, 329, "#66abcd"]]);
panel("pc", 20.5, 644.5, 977, 393, "#fdf3f1", "#d98a87", [[644, 675, "#d96b68"]]);
svg.append("line").attr("x1", 397.5).attr("x2", 397.5).attr("y1", 329).attr("y2", 628).attr("stroke", "#8fc3d8");
svg.append("line").attr("x1", 535.5).attr("x2", 535.5).attr("y1", 644).attr("y2", 1037).attr("stroke", "#d96b68");
badge(36, 40, "A");
badge(36, 282, "B");
badge(36, 659, "C");

const white = { size: 14.8, color: "#fff" };
label(347, 39, "CH_3COOH + ATP", white);
arrow(461, 513, 40, true);
label(519, 39, "Acetyl-CoA + ADP/AMP", white);
label(416, 283, "CO_2 + H_2", white);
arrow(480, 534, 283, true);
label(541, 283, "Acetyl-CoA", white);
label(60, 312, "CO_2 + H_2 + CH_3-H_4MPT", white);
arrow(224, 277, 313, true);
label(287, 312, "Acetyl-CoA", white);
label(603, 312, "CO_2 + H_2", white);
arrow(670, 723, 313, true);
label(733, 312, "CH_3-H_4MPT", white);
label(197, 661, "CH_3R + H_2", white);
arrow(274, 327, 661, false);
label(334, 661, "CH_4", white);
label(669, 660, "CH_3-H_4MPT + H_2", white);
arrow(791, 844, 660, false);
label(851, 660, "CH_4", white);

// ---- panel A ----
circleTree({ cx: 110.7, cy: 151.7, radius: 74, sectors: acdAlphaSectors, rim: acdAlphaRim, tips: acdAlphaTips, start: 300, end: 648, barPx: 19.3 });
circleTree({ cx: 440.7, cy: 153, radius: 74, sectors: acdBetaSectors, rim: acdBetaRim, tips: acdBetaTips, start: 301, end: 650, barPx: 19.3 });
circleTree({ cx: 746.7, cy: 151.7, radius: 74, sectors: acsSectors, tips: acsTipsOuter, inner: acsTipsInner, start: 300, end: 649, barPx: 19.3 });
scaleBar(60, 136, 156, 239, "Tree scale: 0.5");
scaleBar(364, 438, 459, 239, "Tree scale: 0.5");
scaleBar(701, 776, 793, 239, "Tree scale: 0.5");
label(179, 73, "Acd α", { size: 13 });
label(507, 73, "Acd β", { size: 13 });
label(802, 73, "Acs(AMP)", { size: 13 });
legend([[68, "independent Acd", colors.g], [82, "Acd α+β", colors.c], [96, "Acd β+α", colors.k]], 332.6, 340);
scatter({ xr: [214, 332], yr: [212, 93], r: 2.5, groups: [[acdAlphaYellow, colors.y], [acdAlphaOrange, colors.o], [acdAlphaBlue, colors.b], [acdAlphaRed, colors.r]] });
scatter({ xr: [543, 662], yr: [211, 90], r: 2.9, groups: [[acdBetaBlue, colors.b], [acdBetaOrange, colors.o], [acdBetaYellow, colors.y], [acdBetaRed, colors.r]] });
scatter({ xr: [850, 971], yr: [211, 91], r: 3.7, groups: [[acsOrange, colors.o], [acsRed, colors.r], [acsYellow, colors.y], [acsBlue, colors.b, 0.55]] });

// ---- panel B ----
scaleBar(36, 111, 157, 351, "Tree scale: 0.5");
scaleBar(442, 518, 553, 351, "Tree scale: 0.5");
scaleBar(851, 928, 945, 341, "Tree scale: 0.5");
unrootedTree({ root: [133.3, 489], k: 1 / 3, parts: [[cdhOrange, colors.o], [cdhRedUpper, colors.r], [cdhYellow, colors.y], [cdhBlue, colors.b], [cdhRedLower, colors.r]] });
unrootedTree({ root: [523.6, 478], k: 1, parts: [[fwdYellow, colors.y], [fwdRedUp, colors.r], [fwdOrange, colors.o], [fwdYellowLow, colors.y], [fwdBlue, colors.b], [fwdRedLow, colors.r], [fwdGray, colors.k], [fwdBlack, "#111"]] });
unrootedTree({ root: [924, 417], k: 1, hulls: [[bactHullTop, "#b7b7b7"], [bactHullLow, "#b7b7b7"]], parts: [[bactYellow, colors.y], [bactOrange, colors.o], [bactRed, colors.r], [bactBlue, colors.b], [bactBlack, "#111"]] });
label(147, 609, "CdhABCDE", { size: 12.5, anchor: "middle" });
label(536, 609, "FwdDBAC", { size: 12.5, anchor: "middle" });
label(246, 341, "CdhD", { size: 13 });
label(246, 487, "CdhE", { size: 13 });
label(691, 340, "FwdA", { size: 13 });
label(693, 487, "FwdB", { size: 13 });
label(925, 487, "bMtd", { size: 13, anchor: "middle" });
label(878, 401, "Bacteria", { size: 12, anchor: "middle" });
label(879, 426, "Bacteria", { size: 12, anchor: "middle" });
label(964, 515, "Bacteria", { size: 12, anchor: "middle" });
scatter({ xr: [270, 368], yr: [453, 355], groups: [[cdhDOrange, colors.o], [cdhDRed, colors.r], [cdhDYellow, colors.y], [cdhDBlue, colors.b, 0.9]] });
scatter({ xr: [270, 368], yr: [600, 502], groups: [[cdhEOrange, colors.o], [cdhERed, colors.r], [cdhEYellow, colors.y], [cdhEBlue, colors.b, 0.9]] });
scatter({ xr: [706, 804], yr: [452, 353], groups: [[fwdAGray, colors.k], [fwdARed, colors.r], [fwdAOrange, colors.o], [fwdAYellow, colors.y], [fwdABlue, colors.b]] });
scatter({ xr: [705, 805], yr: [599, 501], groups: [[fwdBGray, colors.k], [fwdBOrange, colors.o], [fwdBRed, colors.r], [fwdBYellow, colors.y], [fwdBBlue, colors.b]] });
scatter({ xr: [879, 977], yr: [598, 500], r: 2.3, groups: [[bMtdGray, colors.k], [bMtdOrange, colors.o], [bMtdYellow, colors.y], [bMtdBlue, colors.b]] });

// ---- panel C ----
scaleBar(134, 211, 239, 692, "Tree scale: 0.5");
scaleBar(290, 356, 382, 692, "Tree scale: 1");
scaleBar(570, 644, 683, 703, "Tree scale: 0.5");
unrootedTree({ root: [205.3, 791.7], k: 1 / 3, parts: [[acrRed, colors.r], [acrYellow, colors.y], [acrGreen, colors.g], [acrOrange, colors.o], [acrBlue, colors.b], [acrBlack, "#111", 1.4]] });
unrootedTree({ root: [382.7, 774], k: 1 / 3, hulls: [[mt2HullTopLeft, "#808080"], [mt2HullTopRight, "#808080"], [mt2HullBottom, "#808080"]], parts: [[mt2TreeRed, colors.r], [mt2TreeOrange, colors.o], [mt2TreeYellow, colors.y], [mt2TreeBlack, "#111"]] });
unrootedTree({ root: [709, 836.7], k: 1 / 3, hulls: [[mtrHullTop, "#8f8f8f"], [mtrHullLeft, "#8f8f8f"]], parts: [[mtrTreeYellow, colors.y], [mtrTreeNezha, colors.c], [mtrTreeRed, colors.r], [mtrTreeOrange, colors.o], [mtrTreeBlue, colors.b], [mtrTreeBlack, "#111", 1.3]] });
label(182, 722, "ANME-1", { size: 12, anchor: "middle", color: "#ecc96f" });
label(243, 752, "Nezha", { size: 12, anchor: "middle", color: "#e6cf9f", italic: true });
label(128, 809, "Acr/McrA", { size: 13, anchor: "middle" });
label(312, 726, "MtaA", { size: 11.5, anchor: "middle" });
label(461, 731, "MtsA", { size: 11.5, anchor: "middle" });
label(326, 824, "Other MT2", { size: 11.5, anchor: "middle" });
label(398, 844, "MT2", { size: 14, anchor: "middle" });
label(452, 834, "MtbA", { size: 11.5, anchor: "middle" });
label(80, 859, "McrA", { size: 13 });
legend([[871, "ACR", colors.r], [884, "Nezha", colors.c], [897, "H_2+CH_3R", colors.g]], 132, 141, [1]);
legend([[870, "Halobacteria", colors.b], [883, "Methanobacteria", colors.o], [897, "ANME-1", colors.y]], 199, 209, [0, 1]);
scatter({ xr: [96, 231], yr: [1008, 874], r: 3, groups: [[mcrBlue, colors.b], [mcrOrange, colors.o], [mcrGreen, colors.g, 0.85], [mcrYellow, colors.y]] });
scatter({ xr: [323, 457], yr: [1008, 873], r: 3, hull: mt2Hull, groups: [[mt2Orange, colors.o], [mt2Red, colors.r], [mt2Yellow, colors.y]] });
label(345, 942, "MtbA", { size: 11.5, anchor: "middle" });
label(433, 936, "MtsA", { size: 11.5, anchor: "middle" });
label(381, 987, "MtaA", { size: 11.5, anchor: "middle" });

label(614, 729, "Mtr", { size: 11.5, anchor: "middle" });
label(614, 743, "A-type", { size: 11.5, anchor: "middle" });
label(652, 731.6, "Nezha", { size: 11.5, anchor: "middle", color: "#ead9b4", italic: true });
label(697, 727, "ANME-1", { size: 11.5, anchor: "middle", color: "#efd276" });
const softRed = "#d97f7b", softBlue = "#84c3dd";
label(592, 775, "Acr with", { size: 11.5, anchor: "middle", color: softRed });
label(594, 788, "Mtr A-type", { size: 11.5, anchor: "middle", color: softRed });
label(586, 834, "HB with", { size: 11.5, anchor: "middle", color: softRed });
label(588, 848, "2 types of Mtr,", { size: 11.5, anchor: "middle", color: softRed });
label(587, 861, "Mtr A-type", { size: 11.5, anchor: "middle", color: softRed });
label(625, 909, "HB with", { size: 11.5, anchor: "middle", color: softBlue });
label(627, 923, "2 types of Mtr,", { size: 11.5, anchor: "middle", color: softBlue });
label(627, 936, "Mtr M-type", { size: 11.5, anchor: "middle", color: softBlue });
label(701, 917, "MtrACDE", { size: 13, anchor: "middle" });
legend([[972, "Halobacteria", colors.b], [985, "Methanobacteria", colors.o], [998.5, "ANME-1", colors.y]], 612, 621, [0, 1]);
legend([[972.5, "ACR Mtr", colors.r], [986, "Nezha", colors.c], [999, "Mtr without Mcr", "#222"]], 717, 726, [1]);
label(822, 689, "MtrA", { size: 13 });
label(824, 862, "MtrD", { size: 13 });
scatter({ xr: [838, 969], yr: [832, 702], r: 3, hull: mtrAHull, hullColor: "#999", groups: [[mtrABlue, colors.b], [mtrAOrange, colors.o], [mtrARed, colors.r], [mtrAYellow, colors.y, 0.9], [mtrANezha, colors.c, 0.9], [mtrAGray, "#555"], [mtrABlack, "#000", 0.85]] });
scatter({ xr: [839, 969], yr: [1008, 877], r: 3, hull: mtrDHull, hullColor: "#999", groups: [[mtrDBlue, colors.b], [mtrDOrange, colors.o], [mtrDRed, colors.r], [mtrDYellow, colors.y, 0.9], [mtrDNezha, colors.c, 0.9], [mtrDBlack, "#000", 0.85]] });
label(949, 796, "Mtr", { size: 11.5, anchor: "middle" });
label(949, 810, "A-type", { size: 11.5, anchor: "middle" });
label(964, 940, "Mtr", { size: 11.5, anchor: "middle" });
label(965, 954, "A-type", { size: 11.5, anchor: "middle" });
</script>
</body>
</html>
